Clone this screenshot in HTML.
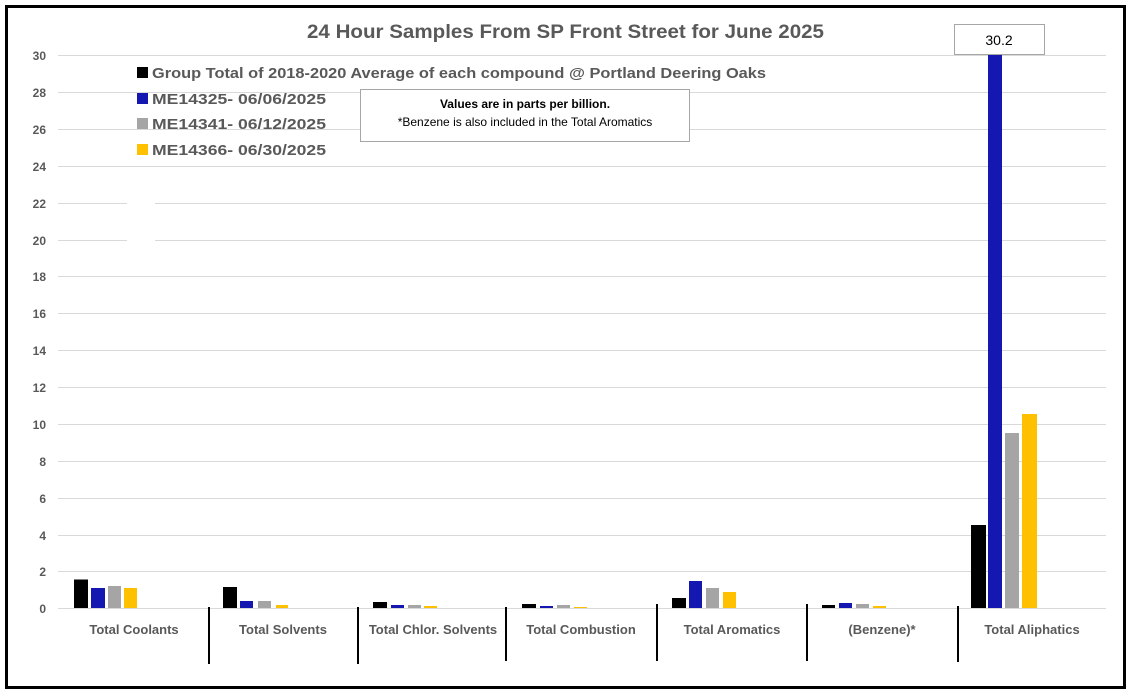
<!DOCTYPE html><html><head><style>body{margin:0;background:#fff}svg{display:block}text{font-family:"Liberation Sans",sans-serif}</style></head><body>
<svg width="1131" height="695" xmlns="http://www.w3.org/2000/svg">
<rect x="0" y="0" width="1131" height="695" fill="#fff"/>
<rect x="6.5" y="6.5" width="1118" height="681" fill="none" stroke="#000" stroke-width="3"/>
<g stroke="#d9d9d9" stroke-width="1">
<line x1="58" x2="1106" y1="55.5" y2="55.5"/><line x1="58" x2="1106" y1="92.5" y2="92.5"/><line x1="58" x2="1106" y1="129.5" y2="129.5"/><line x1="58" x2="1106" y1="166.5" y2="166.5"/><line x1="58" x2="1106" y1="203.5" y2="203.5"/><line x1="58" x2="1106" y1="240.5" y2="240.5"/><line x1="58" x2="1106" y1="276.5" y2="276.5"/><line x1="58" x2="1106" y1="313.5" y2="313.5"/><line x1="58" x2="1106" y1="350.5" y2="350.5"/><line x1="58" x2="1106" y1="387.5" y2="387.5"/><line x1="58" x2="1106" y1="424.5" y2="424.5"/><line x1="58" x2="1106" y1="461.5" y2="461.5"/><line x1="58" x2="1106" y1="498.5" y2="498.5"/><line x1="58" x2="1106" y1="535.5" y2="535.5"/><line x1="58" x2="1106" y1="571.5" y2="571.5"/><line x1="58" x2="1106" y1="608.5" y2="608.5"/>
</g>
<rect x="127" y="195" width="28" height="52" fill="#fff"/>
<g font-size="12" font-weight="bold" fill="#595959" text-anchor="end">
<text x="46" y="60">30</text><text x="46" y="97">28</text><text x="46" y="134">26</text><text x="46" y="171">24</text><text x="46" y="208">22</text><text x="46" y="245">20</text><text x="46" y="281">18</text><text x="46" y="318">16</text><text x="46" y="355">14</text><text x="46" y="392">12</text><text x="46" y="429">10</text><text x="46" y="466">8</text><text x="46" y="503">6</text><text x="46" y="540">4</text><text x="46" y="576">2</text><text x="46" y="613">0</text>
</g>
<g>
<rect x="74" y="579.5" width="14" height="28.5" fill="#000"/><rect x="91" y="588" width="14" height="20" fill="#1518b0"/><rect x="108" y="586" width="13" height="22" fill="#a5a5a5"/><rect x="124" y="588" width="13" height="20" fill="#ffc000"/>
<rect x="223" y="587" width="14" height="21" fill="#000"/><rect x="240" y="601" width="13" height="7" fill="#1518b0"/><rect x="258" y="601" width="13" height="7" fill="#a5a5a5"/><rect x="276" y="605" width="12" height="3" fill="#ffc000"/>
<rect x="373" y="602" width="14" height="6" fill="#000"/><rect x="391" y="605" width="13" height="3" fill="#1518b0"/><rect x="408" y="605" width="13" height="3" fill="#a5a5a5"/><rect x="424" y="606" width="13" height="2" fill="#ffc000"/>
<rect x="522" y="604" width="14" height="4" fill="#000"/><rect x="540" y="606" width="13" height="2" fill="#1518b0"/><rect x="557" y="605" width="13" height="3" fill="#a5a5a5"/><rect x="574" y="607" width="13" height="1" fill="#ffc000"/>
<rect x="672" y="598" width="14" height="10" fill="#000"/><rect x="689" y="581" width="13" height="27" fill="#1518b0"/><rect x="706" y="588" width="13" height="20" fill="#a5a5a5"/><rect x="723" y="592" width="13" height="16" fill="#ffc000"/>
<rect x="822" y="605" width="13" height="3" fill="#000"/><rect x="839" y="603" width="13" height="5" fill="#1518b0"/><rect x="856" y="604" width="13" height="4" fill="#a5a5a5"/><rect x="873" y="606" width="13" height="2" fill="#ffc000"/>
<rect x="971" y="525" width="15" height="83" fill="#000"/><rect x="988" y="55" width="14" height="553" fill="#1518b0"/><rect x="1005" y="433" width="14" height="175" fill="#a5a5a5"/><rect x="1022" y="414" width="15" height="194" fill="#ffc000"/>
</g>
<g stroke="#000" stroke-width="2">
<line x1="209" x2="209" y1="607" y2="664"/><line x1="358" x2="358" y1="607" y2="664"/><line x1="506" x2="506" y1="607" y2="661"/><line x1="657" x2="657" y1="604" y2="661"/><line x1="807" x2="807" y1="604" y2="661"/><line x1="958" x2="958" y1="606" y2="662"/>
</g>
<g font-size="13" font-weight="bold" fill="#595959" text-anchor="middle">
<text x="134" y="634">Total Coolants</text><text x="283" y="634">Total Solvents</text><text x="433" y="634">Total Chlor. Solvents</text><text x="581" y="634">Total Combustion</text><text x="732" y="634">Total Aromatics</text><text x="882" y="634">(Benzene)*</text><text x="1032" y="634">Total Aliphatics</text>
</g>
<text x="307" y="38" font-size="19" font-weight="bold" fill="#595959" textLength="517" lengthAdjust="spacingAndGlyphs">24 Hour Samples From SP Front Street for June 2025</text>
<rect x="137" y="67" width="11" height="11" fill="#000"/><rect x="137" y="93" width="11" height="11" fill="#1518b0"/><rect x="137" y="118" width="11" height="11" fill="#a5a5a5"/><rect x="137" y="144" width="11" height="11" fill="#ffc000"/>
<g font-size="15" font-weight="bold" fill="#595959">
<text x="152" y="78" textLength="614" lengthAdjust="spacingAndGlyphs">Group Total of 2018-2020 Average of each compound @ Portland Deering Oaks</text>
<text x="152" y="104" textLength="174" lengthAdjust="spacingAndGlyphs">ME14325- 06/06/2025</text><text x="152" y="129" textLength="174" lengthAdjust="spacingAndGlyphs">ME14341- 06/12/2025</text><text x="152" y="155" textLength="174" lengthAdjust="spacingAndGlyphs">ME14366- 06/30/2025</text>
</g>
<rect x="360.5" y="89.5" width="329" height="52" fill="#fff" stroke="#a6a6a6"/>
<text x="525" y="108" font-size="12" font-weight="bold" text-anchor="middle" fill="#000">Values are in parts per billion.</text>
<text x="525" y="126" font-size="12" text-anchor="middle" fill="#000">*Benzene is also included in the Total Aromatics</text>
<rect x="954.5" y="24.5" width="90" height="30" fill="#fff" stroke="#a6a6a6"/>
<text x="999" y="45" font-size="14" text-anchor="middle" fill="#000">30.2</text>
</svg></body></html>
